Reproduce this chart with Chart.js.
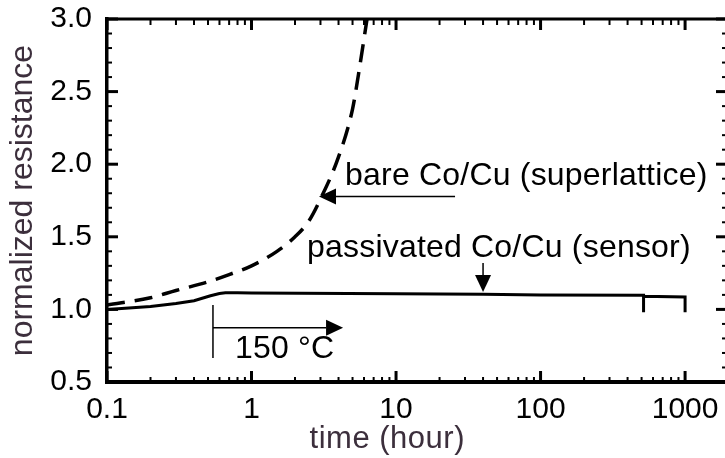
<!DOCTYPE html>
<html>
<head>
<meta charset="utf-8">
<script src="https://cdn.jsdelivr.net/npm/chart.js@4.4.0/dist/chart.umd.min.js"></script>
<style>
  html, body { margin: 0; padding: 0; background: #fff; overflow: hidden; }
</style>
</head>
<body>
<canvas id="chart" width="735" height="458"></canvas>
<script>
// tick labels
const timeTicks = [0.1, 1, 10, 100, 1000];
const resTicks = [0.5, 1.0, 1.5, 2.0, 2.5, 3.0];

// bare Co/Cu (superlattice) - dashed
const bareTime = [0.1, 0.2, 0.3, 0.5, 0.7, 1.0, 1.5, 2.0, 2.5, 3.0, 4.0, 5.0, 5.5, 6.3];
const bareRes = [1.03, 1.08, 1.13, 1.19, 1.24, 1.30, 1.40, 1.50, 1.61, 1.76, 2.05, 2.38, 2.62, 3.0];

// passivated Co/Cu (sensor) - solid
const passTime = [0.1, 0.2, 0.3, 0.4, 0.52, 0.6, 0.66, 0.8, 1, 10, 40, 100, 516, 516, 516, 1000, 1000];
const passRes = [1.0, 1.02, 1.04, 1.06, 1.094, 1.11, 1.115, 1.115, 1.113, 1.108, 1.105, 1.1, 1.097, 0.98, 1.09, 1.085, 0.98];

// annotations (data coordinates)
const notes = [
  { text: "bare Co/Cu (superlattice)", x: 4.44, y: 1.86 },
  { text: "passivated Co/Cu (sensor)", x: 2.42, y: 1.363 },
  { text: "150 °C", x: 0.769, y: 0.666 },
];
const arrows = [
  { from: [25.6, 1.778], to: [2.93, 1.778] },
  { from: [40, 1.32], to: [40, 1.12] },
  { from: [0.541, 0.873], to: [4.3, 0.873] },
];
const startMark = { x: 0.541, y0: 1.03, y1: 0.666 }; // 150 °C start

const FONT = "'Liberation Sans', Arial, Helvetica, sans-serif";
const TITLE_COLOR = "#3c2f3c";

function toXY(xs, ys) {
  return xs.map((t, i) => ({ x: t, y: ys[i] }));
}

// frame, inward ticks, annotations
const frame = {
  id: "frame",
  afterDraw(chart) {
    const ctx = chart.ctx;
    const a = chart.chartArea;
    const xs = chart.scales.x;
    const ys = chart.scales.y;

    function seg(x0, y0, x1, y1, w) {
      ctx.lineWidth = w;
      ctx.beginPath();
      ctx.moveTo(x0, y0);
      ctx.lineTo(x1, y1);
      ctx.stroke();
    }

    ctx.save();
    ctx.strokeStyle = "#000";
    ctx.fillStyle = "#000";

    // top border
    seg(a.left, a.top, a.right, a.top, 3);

    // x ticks, bottom and top
    timeTicks.forEach((d) => {
      const px = xs.getPixelForValue(d);
      seg(px, a.bottom, px, a.bottom - 11, 3);
      seg(px, a.top, px, a.top + 11, 3);
      for (let k = 2; k <= 9; k++) {
        const v = d * k;
        if (v > xs.max) break;
        const mx = xs.getPixelForValue(v);
        seg(mx, a.bottom, mx, a.bottom - 5, 2);
        seg(mx, a.top, mx, a.top + 6, 2);
      }
    });

    // y ticks, left and right
    for (let i = 5; i <= 30; i++) {
      const py = ys.getPixelForValue(i / 10);
      const major = i % 5 === 0;
      const len = major ? 11 : 5;
      const w = major ? 3 : 2;
      seg(a.left, py, a.left + len, py, w);
      seg(a.right, py, a.right - len, py, w);
    }

    // arrows
    arrows.forEach((ar) => {
      const x0 = xs.getPixelForValue(ar.from[0]);
      const y0 = ys.getPixelForValue(ar.from[1]);
      const x1 = xs.getPixelForValue(ar.to[0]);
      const y1 = ys.getPixelForValue(ar.to[1]);
      const ang = Math.atan2(y1 - y0, x1 - x0);
      const hl = 17, hw = 8;
      const bx = x1 - hl * Math.cos(ang);
      const by = y1 - hl * Math.sin(ang);
      seg(x0, y0, bx, by, 1.5);
      ctx.beginPath();
      ctx.moveTo(x1, y1);
      ctx.lineTo(bx + hw * Math.sin(ang), by - hw * Math.cos(ang));
      ctx.lineTo(bx - hw * Math.sin(ang), by + hw * Math.cos(ang));
      ctx.closePath();
      ctx.fill();
    });

    // start of 150 °C
    const sx = xs.getPixelForValue(startMark.x);
    seg(sx, ys.getPixelForValue(startMark.y0), sx, ys.getPixelForValue(startMark.y1), 1.5);

    // labels
    ctx.font = "32px " + FONT;
    ctx.letterSpacing = "0.2px";
    ctx.textAlign = "left";
    ctx.textBaseline = "alphabetic";
    notes.forEach((n) => {
      ctx.fillText(n.text, xs.getPixelForValue(n.x), ys.getPixelForValue(n.y));
    });

    // x axis title
    ctx.font = "31px " + FONT;
    ctx.letterSpacing = "0.5px";
    ctx.fillStyle = TITLE_COLOR;
    ctx.textAlign = "center";
    ctx.fillText("time (hour)", xs.getPixelForValue(8.7), chart.height - 10);

    ctx.restore();
  },
};

new Chart(document.getElementById("chart"), {
  type: "line",
  data: {
    datasets: [
      {
        label: "bare Co/Cu (superlattice)",
        data: toXY(bareTime, bareRes),
        borderColor: "#000",
        borderWidth: 3.5,
        borderDash: [18, 10],
        pointRadius: 0,
        cubicInterpolationMode: "monotone",
        fill: false,
      },
      {
        label: "passivated Co/Cu (sensor)",
        data: toXY(passTime, passRes),
        borderColor: "#000",
        borderWidth: 3,
        pointRadius: 0,
        tension: 0,
        fill: false,
      },
    ],
  },
  options: {
    responsive: false,
    animation: false,
    layout: { padding: { top: 19, right: 8, left: 0, bottom: 0 } },
    plugins: {
      legend: { display: false },
      tooltip: { enabled: false },
    },
    scales: {
      x: {
        type: "logarithmic",
        min: 0.1,
        max: 1950,
        grid: { display: false, drawTicks: false },
        border: { display: true, color: "#000", width: 4 },
        afterBuildTicks: (scale) => {
          scale.ticks = timeTicks.map((v) => ({ value: v }));
        },
        afterFit: (scale) => {
          scale.height = 76;
          scale.paddingLeft = 0;
          scale.paddingRight = 0;
        },
        ticks: {
          autoSkip: false,
          maxRotation: 0,
          padding: 10,
          color: "#000",
          font: { family: FONT, size: 30 },
          callback: (v) => String(v),
        },
      },
      y: {
        min: 0.5,
        max: 3.0,
        grid: { display: false, drawTicks: false },
        border: { display: true, color: "#000", width: 3.5 },
        afterBuildTicks: (scale) => {
          scale.ticks = resTicks.map((v) => ({ value: v }));
        },
        afterFit: (scale) => {
          scale.width = 107;
          scale.paddingTop = 0;
          scale.paddingBottom = 0;
        },
        ticks: {
          padding: 15,
          color: "#000",
          font: { family: FONT, size: 30 },
          callback: (v) => Number(v).toFixed(1),
        },
        title: {
          display: true,
          text: "normalized resistance",
          color: TITLE_COLOR,
          font: { family: FONT, size: 32 },
          padding: { top: 4, bottom: 0 },
        },
      },
    },
  },
  plugins: [frame],
});
</script>
</body>
</html>
